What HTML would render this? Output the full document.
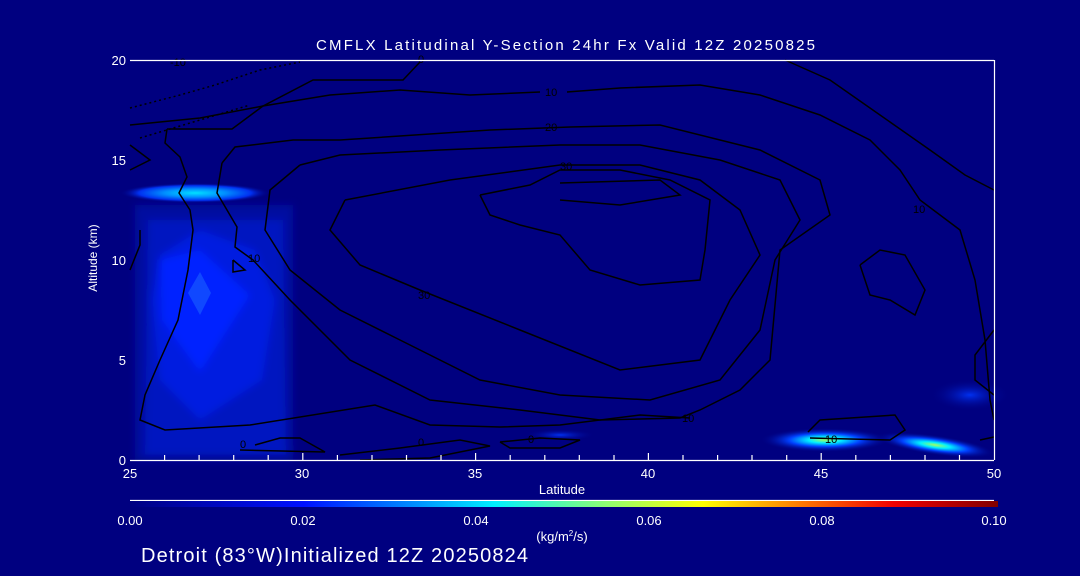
<!DOCTYPE html>
<html><head><meta charset="utf-8"><style>
html,body{margin:0;padding:0;background:#000080;}
svg{display:block;}
text{font-family:"Liberation Sans",sans-serif;fill:#fff;}
</style></head><body>
<svg width="1080" height="576" viewBox="0 0 1080 576" xmlns="http://www.w3.org/2000/svg">
<defs>
<linearGradient id="cb" x1="0" x2="1" y1="0" y2="0">
<stop offset="0" stop-color="#000080"/>
<stop offset="0.2" stop-color="#0010ff"/>
<stop offset="0.33" stop-color="#0090ff"/>
<stop offset="0.42" stop-color="#00f0ff"/>
<stop offset="0.55" stop-color="#90ff70"/>
<stop offset="0.66" stop-color="#ffff00"/>
<stop offset="0.78" stop-color="#ff7000"/>
<stop offset="0.88" stop-color="#f00000"/>
<stop offset="1" stop-color="#800000"/>
</linearGradient>
<radialGradient id="band" cx="0.5" cy="0.5" r="0.5">
<stop offset="0" stop-color="#00e0ff"/>
<stop offset="0.4" stop-color="#0090ff"/>
<stop offset="0.75" stop-color="#0030f0"/>
<stop offset="1" stop-color="#000080" stop-opacity="0"/>
</radialGradient>
<radialGradient id="blob" cx="0.5" cy="0.5" r="0.5">
<stop offset="0" stop-color="#a0ff60"/>
<stop offset="0.25" stop-color="#00f0ff"/>
<stop offset="0.55" stop-color="#0040ff"/>
<stop offset="1" stop-color="#000080" stop-opacity="0"/>
</radialGradient>
<radialGradient id="soft" cx="0.5" cy="0.5" r="0.5">
<stop offset="0" stop-color="#0030f0"/>
<stop offset="1" stop-color="#000080" stop-opacity="0"/>
</radialGradient>
<filter id="bl" x="-10%" y="-10%" width="120%" height="120%"><feGaussianBlur stdDeviation="4"/></filter>
</defs>

<!-- shaded field -->
<g filter="url(#bl)">
<rect x="135" y="205" width="158" height="255" fill="#000ca0"/>
<polygon points="148,220 283,220 286,455 145,455" fill="#0014c0"/>
<polygon points="160,255 200,230 255,250 275,300 262,380 200,420 160,380 152,300" fill="#001ce0"/>
<polygon points="160,260 200,250 250,295 200,372 162,320" fill="#0024ff"/>
</g>
<polygon points="200,272 211,293 200,315 188,293" fill="#1048ff"/>
<ellipse cx="195" cy="193" rx="75" ry="10" fill="url(#band)"/>
<ellipse cx="825" cy="440" rx="65" ry="12" fill="url(#blob)"/>
<ellipse cx="935" cy="445" rx="60" ry="10" fill="url(#blob)" transform="rotate(8 935 445)"/>
<ellipse cx="970" cy="395" rx="40" ry="16" fill="url(#soft)"/>
<ellipse cx="560" cy="435" rx="35" ry="6" fill="url(#soft)"/>

<!-- contours -->
<g fill="none" stroke="#000" stroke-width="1.5">
<polyline stroke-dasharray="2,3" points="130,108 180,95 215,85 260,70 300,62"/>
<polyline stroke-dasharray="2,3" points="140,138 200,120 250,105"/>
<polyline points="130,125 200,118 263,106 313,80 403,80 420,62"/>
<polyline points="785,60 830,80 880,115 930,150 965,175 994,190"/>
<polyline points="167,129 232,129 263,106 330,95 400,90 470,95 540,92"/>
<polyline points="567,92 620,88 700,85 760,95 820,115 870,140 900,170 920,200 960,230 975,280 985,340 990,400 994,420"/>
<polyline points="167,129 165,143 180,157 187,177 179,193 190,210 193,230 188,270 178,320 160,360 145,395 140,420 165,430 250,425 375,405 430,425 500,427 560,425 640,415 690,418"/>
<polyline points="222,163 217,193 237,227 235,247 253,260 290,300 350,360 430,400 520,410 600,420 680,418 700,410 740,390 770,360 780,250 830,215 820,180 760,150 660,125 570,127 490,130 340,140 293,140 235,147 222,163"/>
<polyline points="300,165 270,190 265,230 290,270 340,310 400,340 480,380 560,395 650,400 720,380 760,330 775,260 800,220 780,180 720,160 640,145 560,145 440,150 340,155 300,165"/>
<polyline points="345,200 330,230 360,265 420,290 520,330 620,370 700,360 730,300 760,255 740,210 700,180 640,165 560,165 450,180 345,200"/>
<polyline points="480,195 530,185 560,170 620,170 670,180 710,200 705,250 700,280 640,285 590,270 560,235 520,225 490,215 480,195"/>
<polyline points="560,183 660,180 680,195 620,205 560,200"/>
<polyline points="860,265 880,250 905,255 925,290 915,315 890,300 870,295 860,265"/>
<polyline points="233,260 245,270 233,272 233,260"/>
<polyline points="130,170 150,160 130,145"/>
<polyline points="130,270 140,245 140,230"/>
<polyline points="255,445 280,438 300,438 325,452 240,450"/>
<polyline points="340,455 400,448 460,440 490,446 430,458 360,460"/>
<polyline points="500,442 540,438 580,440 560,448 510,448 500,442"/>
<polyline points="810,438 890,440 905,430 895,415 820,420 808,432"/>
<polyline points="980,440 994,437"/>
<polyline points="994,330 975,355 975,380 994,395"/>
</g>
<g font-size="11" style="fill:#000">
<text x="170" y="66" style="fill:#000">-10</text>
<text x="418" y="63" style="fill:#000">0</text>
<text x="545" y="96" style="fill:#000">10</text>
<text x="545" y="131" style="fill:#000">20</text>
<text x="560" y="170" style="fill:#000">30</text>
<text x="418" y="299" style="fill:#000">30</text>
<text x="248" y="262" style="fill:#000">10</text>
<text x="682" y="422" style="fill:#000">10</text>
<text x="913" y="213" style="fill:#000">10</text>
<text x="825" y="443" style="fill:#000">10</text>
<text x="240" y="448" style="fill:#000">0</text>
<text x="418" y="446" style="fill:#000">0</text>
<text x="528" y="443" style="fill:#000">0</text>
</g>

<!-- axes -->
<g stroke="#fff" stroke-width="1.2">
<line x1="130" y1="60.5" x2="994" y2="60.5"/>
<line x1="130" y1="460.5" x2="994" y2="460.5"/>
<line x1="994.5" y1="60" x2="994.5" y2="460"/>
<path d="M164.6,460v-5M199.1,460v-5M233.7,460v-5M268.2,460v-5M302.8,460v-7M337.4,460v-5M372,460v-5M406.5,460v-5M441,460v-5M475.6,460v-7M510.2,460v-5M544.8,460v-5M579.3,460v-5M614,460v-5M648.4,460v-7M683,460v-5M717.6,460v-5M752,460v-5M786.7,460v-5M821.2,460v-7M855.8,460v-5M890.4,460v-5M925,460v-5M959.5,460v-5"/>
<line x1="130" y1="500.5" x2="994" y2="500.5"/>
</g>
<rect x="130" y="501" width="868" height="6" fill="url(#cb)"/>

<g font-size="13" text-anchor="middle">
<text x="316" y="50" font-size="15" text-anchor="start" textLength="499" lengthAdjust="spacing">CMFLX Latitudinal Y-Section 24hr  Fx Valid 12Z 20250825</text>
<text x="130" y="478">25</text><text x="302" y="478">30</text><text x="475" y="478">35</text>
<text x="648" y="478">40</text><text x="821" y="478">45</text><text x="994" y="478">50</text>
<text x="562" y="494" font-size="13">Latitude</text>
<text x="130" y="525">0.00</text><text x="303" y="525">0.02</text><text x="476" y="525">0.04</text>
<text x="649" y="525">0.06</text><text x="822" y="525">0.08</text><text x="994" y="525">0.10</text>
<text x="562" y="541" font-size="13">(kg/m<tspan font-size="8" dy="-5">2</tspan><tspan dy="5">/s)</tspan></text>
</g>
<g font-size="13" text-anchor="end">
<text x="126" y="65">20</text><text x="126" y="165">15</text><text x="126" y="265">10</text>
<text x="126" y="365">5</text><text x="126" y="465">0</text>
</g>
<text x="97" y="258" font-size="12" text-anchor="middle" transform="rotate(-90 97 258)">Altitude (km)</text>
<text x="141" y="562" font-size="20" textLength="387" lengthAdjust="spacing">Detroit (83°W)Initialized 12Z 20250824</text>
</svg>
</body></html>
